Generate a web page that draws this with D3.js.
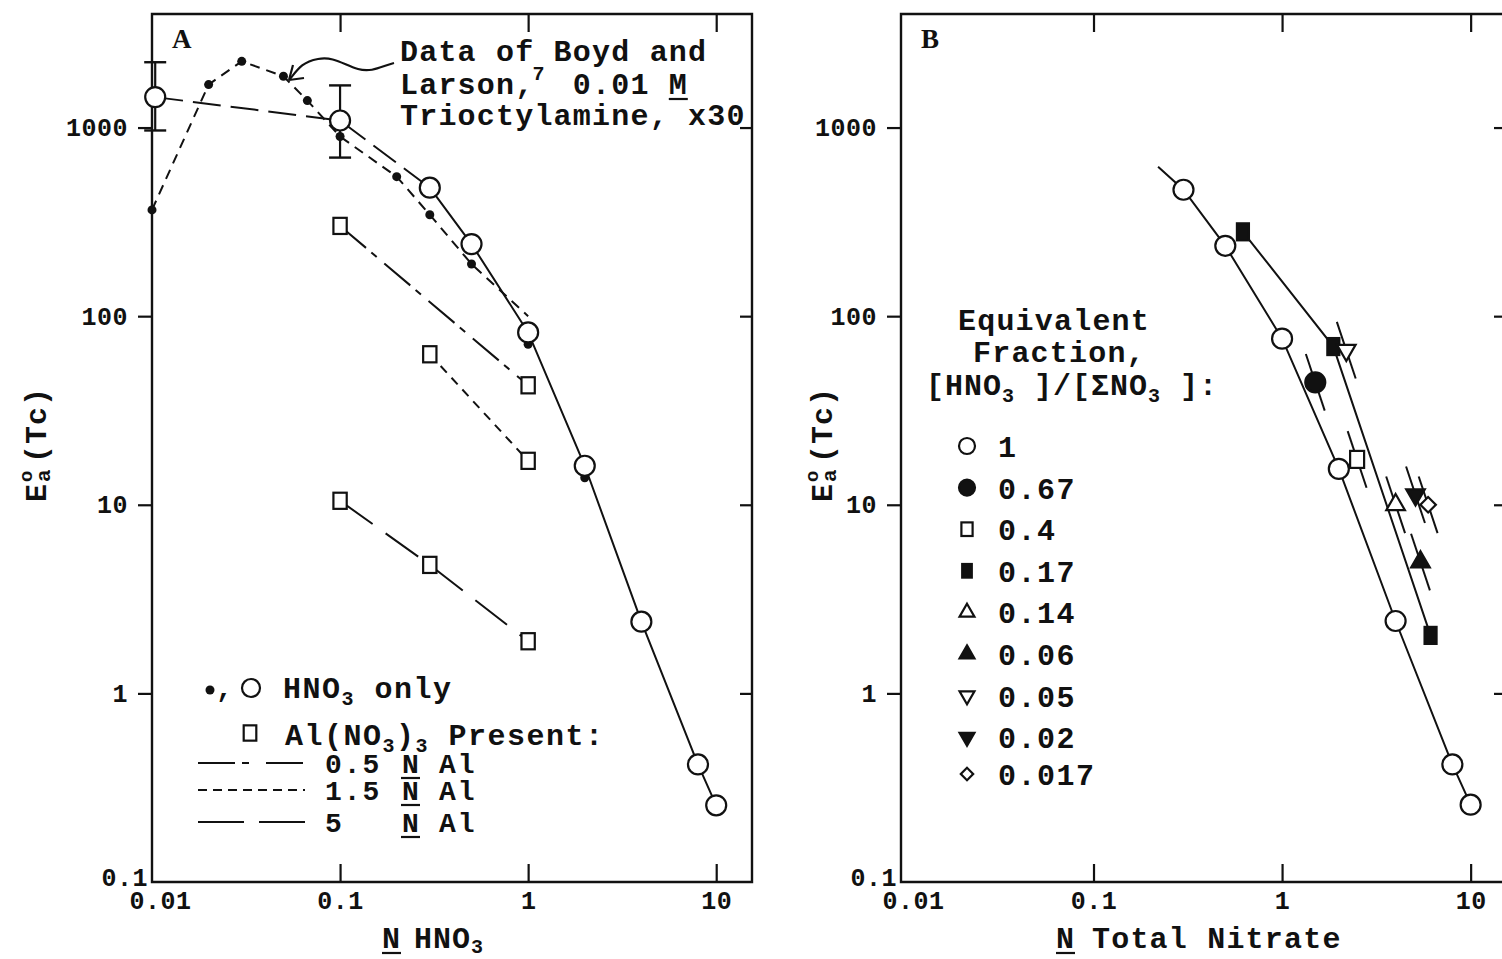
<!DOCTYPE html>
<html>
<head>
<meta charset="utf-8">
<script src="https://cdn.jsdelivr.net/npm/d3@7"></script>
<style>
  body { margin: 0; background: #fff; }
  svg text { font-family: "Liberation Mono", "Courier New", monospace; font-weight: bold; fill: #111; white-space: pre; }
</style>
</head>
<body>
<svg id="chart" width="1502" height="959"></svg>
<script>
// ---- axis ticks ----
const xTickValues = [0.01, 0.1, 1, 10];
const xTickText = ["0.01", "0.1", "1", "10"];
const yTickValues = [0.1, 1, 10, 100, 1000];
const yTickText = ["0.1", "1", "10", "100", "1000"];

// ---- Panel A: E°a(Tc) vs N HNO3 ----
// HNO3 only (open circles)
const hno3N = [0.0104, 0.1, 0.3, 0.5, 1, 2, 4, 8, 10];
const hno3E = [1450, 1090, 480, 241, 82, 16.1, 2.4, 0.42, 0.255];
// uncertainty at the two lowest acidities
const errN = [0.0104, 0.1];
const errLow = [965, 693];
const errHigh = [2220, 1673];
// Boyd and Larson, 0.01 M trioctylamine, x30 (small dots)
const boydN = [0.01, 0.02, 0.03, 0.05, 0.067, 0.1, 0.2, 0.3, 0.5, 1, 2];
const boydE = [366, 1690, 2245, 1870, 1390, 896, 549, 345, 189, 71, 13.9];
const boydCurveN = [0.01, 0.02, 0.03, 0.05, 0.067, 0.1, 0.2, 0.3, 0.5, 1];
const boydCurveE = [366, 1690, 2245, 1870, 1390, 896, 549, 345, 189, 100];
// Al(NO3)3 present (open squares)
const al05N = [0.1, 1];
const al05E = [301, 43];
const al15N = [0.3, 1];
const al15E = [62.8, 17.1];
const al5N = [0.1, 0.3, 1];
const al5E = [10.5, 4.8, 1.89];

// ---- Panel B: E°a(Tc) vs N total nitrate, by equivalent fraction ----
const frac1LineN = [0.22, 0.3, 0.5, 1, 2, 4, 8, 10];
const frac1LineE = [620, 468, 236, 76, 15.5, 2.42, 0.42, 0.257];
const frac1N = [0.3, 0.5, 1, 2, 4, 8, 10];
const frac1E = [468, 236, 76, 15.5, 2.42, 0.42, 0.257];
const frac067N = [1.5];
const frac067E = [44.6];
const frac04N = [2.5];
const frac04E = [17.4];
const frac017N = [0.62, 1.87, 6.13];
const frac017E = [280, 69, 2.03];
const frac014N = [4.0];
const frac014E = [10];
const frac006N = [5.42];
const frac006E = [4.97];
const frac005N = [2.19];
const frac005E = [66];
const frac002N = [5.1];
const frac002E = [11.3];
const frac0017N = [5.95];
const frac0017E = [10];

const ink = "#111";
const svg = d3.select("#chart");

const y = d3.scaleLog().domain([0.1, 4000]).range([882, 14]);
const xA = d3.scaleLog().domain([0.01, 15.5]).range([152, 752]);
const xB = d3.scaleLog().domain([0.00953, 15.4]).range([901, 1506]);

function drawFrame(x) {
  const [x0, x1] = x.range();
  const [yb, yt] = y.range();
  const g = svg.append("g");
  g.append("path")
    .attr("d", `M${x0},${yt}H${x1}V${yb}H${x0}Z`)
    .attr("fill", "none").attr("stroke", ink).attr("stroke-width", 2.4);

  // bottom axis: inward ticks with labels
  const bx = g.append("g").attr("transform", `translate(0,${yb})`)
    .call(d3.axisBottom(x).tickValues(xTickValues)
      .tickFormat((d, i) => xTickText[i]).tickSize(-18).tickPadding(9));
  bx.selectAll(".tick").filter(d => d === 0.01).select("line").remove();
  bx.selectAll(".tick").filter(d => d === 0.01).select("text").attr("dx", 8);

  // top axis: inward ticks
  g.append("g").attr("transform", `translate(0,${yt})`)
    .call(d3.axisTop(x).tickValues(xTickValues.slice(1)).tickFormat("").tickSize(-18));

  // left axis: outward ticks with labels
  const ly = g.append("g").attr("transform", `translate(${x0},0)`)
    .call(d3.axisLeft(y).tickValues(yTickValues)
      .tickFormat((d, i) => yTickText[i]).tickSize(14).tickPadding(10));
  const low = ly.selectAll(".tick").filter(d => d === 0.1);
  low.select("line").remove();
  low.select("text").attr("x", -4).attr("y", -5);

  // right axis: inward ticks
  g.append("g").attr("transform", `translate(${x1},0)`)
    .call(d3.axisRight(y).tickValues(yTickValues.slice(1)).tickFormat("").tickSize(-12));

  g.selectAll(".domain").remove();
  g.selectAll(".tick line").attr("stroke", ink).attr("stroke-width", 2.2);
  g.selectAll(".tick text")
    .attr("fill", ink)
    .style("font-family", '"Liberation Mono", monospace')
    .style("font-weight", "bold")
    .style("font-size", "25px")
    .style("letter-spacing", "0.5px");
  return g;
}

function yTitle(cx) {
  const g = svg.append("g").attr("transform", `translate(${cx},442) rotate(-90)`);
  g.append("text").attr("x", -60).attr("y", 10).style("font-size", "30px").text("E");
  g.append("text").attr("x", -40).attr("y", -4).style("font-size", "19px").text("o");
  g.append("text").attr("x", -40).attr("y", 14).style("font-size", "21px").text("a");
  g.append("text").attr("x", -21).attr("y", 10).style("font-size", "30px")
    .style("letter-spacing", "1px").text("(Tc)");
}

function underline(x, yBase, w) {
  svg.append("line").attr("x1", x).attr("x2", x + w)
    .attr("y1", yBase + 5).attr("y2", yBase + 5)
    .attr("stroke", ink).attr("stroke-width", 2.2);
}

function marker(g, shape, filled, cx, cy, s = 1) {
  const fill = filled ? ink : "#fff";
  const sw = 2.2;
  if (shape === "circle") {
    g.append("circle").attr("cx", cx).attr("cy", cy).attr("r", 10 * s)
      .attr("fill", fill).attr("stroke", ink).attr("stroke-width", sw);
  } else if (shape === "square") {
    const w = (filled ? 12 : 14) * s, h = 17 * s;
    g.append("rect").attr("x", cx - w / 2).attr("y", cy - h / 2).attr("width", w).attr("height", h)
      .attr("fill", fill).attr("stroke", ink).attr("stroke-width", sw);
  } else if (shape === "triUp" || shape === "triDown") {
    g.append("path").attr("d", d3.symbol(d3.symbolTriangle, 150 * s * s)())
      .attr("transform", `translate(${cx},${cy})` + (shape === "triDown" ? " rotate(180)" : ""))
      .attr("fill", fill).attr("stroke", ink).attr("stroke-width", sw);
  } else if (shape === "diamond") {
    g.append("path").attr("d", d3.symbol(d3.symbolSquare, 120 * s * s)())
      .attr("transform", `translate(${cx},${cy}) rotate(45)`)
      .attr("fill", fill).attr("stroke", ink).attr("stroke-width", sw);
  }
}

function linePath(x, ns, es) {
  return d3.line().x(d => x(d[0])).y(d => y(d[1]))(d3.zip(ns, es));
}

// ================= Panel A =================
drawFrame(xA);
yTitle(36);
const gA = svg.append("g");

// Boyd and Larson curve (short dashes)
gA.append("path").attr("d", linePath(xA, boydCurveN, boydCurveE))
  .attr("fill", "none").attr("stroke", ink).attr("stroke-width", 2).attr("stroke-dasharray", "10,7");
// HNO3-only curve: long dashes to 0.3 N, then solid
gA.append("path").attr("d", linePath(xA, hno3N.slice(0, 3), hno3E.slice(0, 3)))
  .attr("fill", "none").attr("stroke", ink).attr("stroke-width", 2).attr("stroke-dasharray", "28,10");
gA.append("path").attr("d", linePath(xA, hno3N.slice(2), hno3E.slice(2)))
  .attr("fill", "none").attr("stroke", ink).attr("stroke-width", 2);
// Al(NO3)3 curves
gA.append("path").attr("d", linePath(xA, al05N, al05E))
  .attr("fill", "none").attr("stroke", ink).attr("stroke-width", 2).attr("stroke-dasharray", "34,7,7,10");
gA.append("path").attr("d", linePath(xA, al15N, al15E))
  .attr("fill", "none").attr("stroke", ink).attr("stroke-width", 2).attr("stroke-dasharray", "9,7");
gA.append("path").attr("d", linePath(xA, al5N, al5E))
  .attr("fill", "none").attr("stroke", ink).attr("stroke-width", 2).attr("stroke-dasharray", "40,16");

// error bars
errN.forEach((n, i) => {
  const cx = xA(n), capW = 11;
  gA.append("line").attr("x1", cx).attr("x2", cx).attr("y1", y(errLow[i])).attr("y2", y(errHigh[i]))
    .attr("stroke", ink).attr("stroke-width", 2.2);
  [errLow[i], errHigh[i]].forEach(v => {
    gA.append("line").attr("x1", cx - capW).attr("x2", cx + capW).attr("y1", y(v)).attr("y2", y(v))
      .attr("stroke", ink).attr("stroke-width", 2.4);
  });
});

// markers
boydN.forEach((n, i) => {
  gA.append("circle").attr("cx", xA(n)).attr("cy", y(boydE[i])).attr("r", 4.5).attr("fill", ink);
});
hno3N.forEach((n, i) => marker(gA, "circle", false, xA(n), y(hno3E[i])));
[[al05N, al05E], [al15N, al15E], [al5N, al5E]].forEach(([ns, es]) => {
  ns.forEach((n, i) => marker(gA, "square", false, xA(n), y(es[i]), 0.95));
});

// panel letter and annotation
svg.append("text").attr("x", 172).attr("y", 48).style("font-size", "27px")
  .style("font-family", '"Liberation Serif", serif').text("A");
const noteX = 400;
const noteStyle = t => t.style("font-size", "30px").style("letter-spacing", "1.2px");
noteStyle(svg.append("text").attr("x", noteX).attr("y", 61)).text("Data of Boyd and");
noteStyle(svg.append("text").attr("x", noteX).attr("y", 94)).text("Larson,  0.01 M");
noteStyle(svg.append("text").attr("x", noteX).attr("y", 125)).text("Trioctylamine, x30");
svg.append("text").attr("x", noteX + 7 * 19.2 - 2).attr("y", 80).style("font-size", "20px").text("7");
underline(noteX + 14 * 19.2, 94, 19);
// curved pointer to the Boyd and Larson curve
svg.append("path")
  .attr("d", "M394,63 C382,66 372,73 358,69 S334,56 318,59 S298,69 290,79")
  .attr("fill", "none").attr("stroke", ink).attr("stroke-width", 2.2);
svg.append("path")
  .attr("d", "M289,80 L293,65 M289,80 L304,78")
  .attr("fill", "none").attr("stroke", ink).attr("stroke-width", 2.2);

// legend A
const legA = svg.append("g");
legA.append("circle").attr("cx", 210).attr("cy", 690).attr("r", 4.5).attr("fill", ink);
legA.append("text").attr("x", 216).attr("y", 697).style("font-size", "28px").text(",");
marker(legA, "circle", false, 251, 688, 0.9);
const t1 = legA.append("text").attr("x", 283).attr("y", 698).style("font-size", "30px").style("letter-spacing", "1.5px");
t1.append("tspan").text("HNO");
t1.append("tspan").attr("dy", 7).style("font-size", "20px").text("3");
t1.append("tspan").attr("dy", -7).text(" only");
marker(legA, "square", false, 250, 733, 0.9);
const t2 = legA.append("text").attr("x", 285).attr("y", 745).style("font-size", "30px").style("letter-spacing", "1.5px");
t2.append("tspan").text("Al(NO");
t2.append("tspan").attr("dy", 7).style("font-size", "20px").text("3");
t2.append("tspan").attr("dy", -7).text(")");
t2.append("tspan").attr("dy", 7).style("font-size", "20px").text("3");
t2.append("tspan").attr("dy", -7).text(" Present:");

const legLines = [
  { dash: "37,7,7,17", label: "0.5", yy: 763 },
  { dash: "9,6", label: "1.5", yy: 790 },
  { dash: "46,15", label: "5", yy: 822 }
];
legLines.forEach(r => {
  legA.append("line").attr("x1", 198).attr("x2", 305).attr("y1", r.yy).attr("y2", r.yy)
    .attr("stroke", ink).attr("stroke-width", 2).attr("stroke-dasharray", r.dash);
  legA.append("text").attr("x", 325).attr("y", r.yy + 10).style("font-size", "28px")
    .style("letter-spacing", "2px").text(r.label);
  legA.append("text").attr("x", 402).attr("y", r.yy + 10).style("font-size", "28px").text("N");
  underline(401, r.yy + 10, 19);
  legA.append("text").attr("x", 439).attr("y", r.yy + 10).style("font-size", "28px")
    .style("letter-spacing", "2px").text("Al");
});

// x title A
svg.append("text").attr("x", 382).attr("y", 948).style("font-size", "30px").text("N");
underline(382, 948, 19);
const xtA = svg.append("text").attr("x", 414).attr("y", 948).style("font-size", "30px").style("letter-spacing", "1px");
xtA.append("tspan").text("HNO");
xtA.append("tspan").attr("dy", 5).style("font-size", "20px").text("3");

// ================= Panel B =================
drawFrame(xB);
yTitle(822);
const gB = svg.append("g");

gB.append("path").attr("d", linePath(xB, frac1LineN, frac1LineE))
  .attr("fill", "none").attr("stroke", ink).attr("stroke-width", 2);
gB.append("path").attr("d", linePath(xB, frac017N, frac017E))
  .attr("fill", "none").attr("stroke", ink).attr("stroke-width", 2);

const seriesB = [
  { label: "1", n: frac1N, e: frac1E, shape: "circle", filled: false, mark: false },
  { label: "0.67", n: frac067N, e: frac067E, shape: "circle", filled: true, mark: true },
  { label: "0.4", n: frac04N, e: frac04E, shape: "square", filled: false, mark: true },
  { label: "0.17", n: frac017N, e: frac017E, shape: "square", filled: true, mark: false },
  { label: "0.14", n: frac014N, e: frac014E, shape: "triUp", filled: false, mark: true },
  { label: "0.06", n: frac006N, e: frac006E, shape: "triUp", filled: true, mark: true },
  { label: "0.05", n: frac005N, e: frac005E, shape: "triDown", filled: false, mark: true },
  { label: "0.02", n: frac002N, e: frac002E, shape: "triDown", filled: true, mark: true },
  { label: "0.017", n: frac0017N, e: frac0017E, shape: "diamond", filled: false, mark: true }
];

// short strokes along the local slope (about -3 in log-log) through the single-point series
const slopeStep = 0.05;
seriesB.filter(s => s.mark).forEach(s => {
  s.n.forEach((n, i) => {
    const e = s.e[i];
    gB.append("line")
      .attr("x1", xB(n * Math.pow(10, -slopeStep))).attr("y1", y(e * Math.pow(10, 3 * slopeStep)))
      .attr("x2", xB(n * Math.pow(10, slopeStep))).attr("y2", y(e * Math.pow(10, -3 * slopeStep)))
      .attr("stroke", ink).attr("stroke-width", 2);
  });
});
seriesB.forEach(s => {
  s.n.forEach((n, i) => marker(gB, s.shape, s.filled, xB(n), y(s.e[i])));
});

svg.append("text").attr("x", 921).attr("y", 48).style("font-size", "27px")
  .style("font-family", '"Liberation Serif", serif').text("B");

// legend B
const legB = svg.append("g");
legB.append("text").attr("x", 958).attr("y", 330).style("font-size", "30px").style("letter-spacing", "1.2px").text("Equivalent");
legB.append("text").attr("x", 973).attr("y", 362).style("font-size", "30px").style("letter-spacing", "1.2px").text("Fraction,");
const hdr = legB.append("text").attr("x", 926).attr("y", 395).style("font-size", "30px").style("letter-spacing", "1px");
hdr.append("tspan").text("[HNO");
hdr.append("tspan").attr("dy", 7).style("font-size", "20px").text("3");
hdr.append("tspan").attr("dy", -7).text(" ]/[ΣNO");
hdr.append("tspan").attr("dy", 7).style("font-size", "20px").text("3");
hdr.append("tspan").attr("dy", -7).text(" ]:");

seriesB.forEach((s, i) => {
  const ry = i < 8 ? 446 + i * 41.6 : 774;
  marker(legB, s.shape, s.filled, 967, ry, 0.8);
  legB.append("text").attr("x", 998).attr("y", ry + 11).style("font-size", "30px")
    .style("letter-spacing", "1.5px").text(s.label);
});

// x title B
svg.append("text").attr("x", 1056).attr("y", 948).style("font-size", "30px").text("N");
underline(1056, 948, 19);
svg.append("text").attr("x", 1092).attr("y", 948).style("font-size", "30px")
  .style("letter-spacing", "1.2px").text("Total Nitrate");
</script>
</body>
</html>
